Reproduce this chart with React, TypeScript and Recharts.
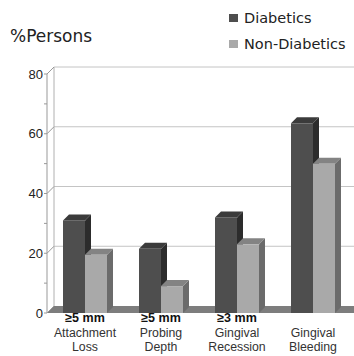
import React from "react";
import { BarChart, Bar, XAxis, YAxis, CartesianGrid, Legend } from "recharts";

const categories = ["Attachment Loss", "Probing Depth", "Gingival Recession", "Gingival Bleeding"];
const qualifierLabels = ["≥5 mm", "≥5 mm", "≥3 mm", ""];
const labelLine1 = ["Attachment", "Probing", "Gingival", "Gingival"];
const labelLine2 = ["Loss", "Depth", "Recession", "Bleeding"];
const diabetics = [31, 21.5, 32, 63.5];
const nonDiabetics = [19.5, 9, 23, 50];
const yTicks = [0, 10, 20, 30, 40, 50, 60, 70, 80];
const yMajorTicks = [0, 20, 40, 60, 80];
const seriesNames = ["Diabetics", "Non-Diabetics"];

const data = categories.map((c, i) => ({
  name: c,
  Diabetics: diabetics[i],
  NonDiabetics: nonDiabetics[i],
}));

const DEPTH = 6;
const WALL = 7;

const D_COLORS = { front: "#4e4e4e", top: "#3b3b3b", side: "#2c2c2c" };
const N_COLORS = { front: "#a9a9a9", top: "#838383", side: "#6b6b6b" };

const make3DBar = (c: { front: string; top: string; side: string }) => (props: any) => {
  const { x, y, width, height } = props;
  if (width == null || height == null) return <g />;
  const d = DEPTH;
  return (
    <g>
      <polygon
        points={`${x + width},${y} ${x + width + d},${y - d} ${x + width + d},${y + height - d} ${x + width},${y + height}`}
        fill={c.side}
      />
      <polygon
        points={`${x},${y} ${x + d},${y - d} ${x + width + d},${y - d} ${x + width},${y}`}
        fill={c.top}
      />
      <rect x={x} y={y} width={width} height={height} fill={c.front} />
    </g>
  );
};

const gridLine = (props: any) => {
  const { x1, y1, x2, x, y, width, height, index } = props;
  const bottom = y + height;
  const isFloor = Math.abs(y1 - bottom) < 0.5;
  return (
    <g key={`gl-${index}`}>
      {isFloor ? (
        <polygon
          points={`${x},${bottom} ${x + WALL},${bottom - WALL} ${x + width + WALL + 10},${bottom - WALL} ${x + width + 10},${bottom}`}
          fill="#7d7d7d"
        />
      ) : (
        <line x1={x1 + WALL} y1={y1 - WALL} x2={x2 + WALL} y2={y1 - WALL} stroke="#c4c4c4" strokeWidth={1} />
      )}
      {isFloor ? (
        <line x1={x + WALL} y1={y - WALL} x2={x + WALL} y2={bottom - WALL} stroke="#b0b0b0" strokeWidth={1} />
      ) : null}
    </g>
  );
};

const YTick = (props: any) => {
  const { x, y, payload } = props;
  const v = payload.value;
  const major = yMajorTicks.includes(v);
  return (
    <g>
      <line x1={x - 3} y1={y} x2={x} y2={y} stroke="#999" strokeWidth={1} />
      {major ? <line x1={x} y1={y} x2={x + WALL} y2={y - WALL} stroke="#999" strokeWidth={1} /> : null}
      {major ? (
        <text
          x={x - 4}
          y={y + 4.5}
          textAnchor="end"
          fontFamily="'Liberation Sans', Arial, sans-serif"
          fontSize={13}
          fill="#222"
        >
          {v}
        </text>
      ) : null}
    </g>
  );
};

const XTick = (props: any) => {
  const { x, y, payload } = props;
  const i = payload.index;
  const ff = "'Liberation Sans', Arial, sans-serif";
  return (
    <g>
      {qualifierLabels[i] ? (
        <text x={x} y={y + 9} textAnchor="middle" fontFamily={ff} fontSize={12.5} fontWeight="bold" fill="#111">
          {qualifierLabels[i]}
        </text>
      ) : null}
      <text x={x} y={y + 23.5} textAnchor="middle" fontFamily={ff} fontSize={12.3} fill="#333">
        {labelLine1[i]}
      </text>
      <text x={x} y={y + 38} textAnchor="middle" fontFamily={ff} fontSize={12.3} fill="#333">
        {labelLine2[i]}
      </text>
    </g>
  );
};

const LegendBox = () => {
  const colors = [D_COLORS.front, N_COLORS.front];
  return (
    <div style={{ fontFamily: "'DejaVu Sans', sans-serif", fontSize: 14.5, color: "#222" }}>
      {seriesNames.map((n, i) => (
        <div key={n} style={{ display: "flex", alignItems: "center", height: 26 }}>
          <span style={{ display: "inline-block", width: 9, height: 8, background: colors[i], marginRight: 6 }} />
          <span>{n}</span>
        </div>
      ))}
    </div>
  );
};

export default function App() {
  return (
    <div style={{ position: "absolute", left: 0, top: 0, width: 354, height: 356, background: "#fff" }}>
      <BarChart
        width={354}
        height={356}
        data={data}
        margin={{ top: 74, right: 3, left: 0, bottom: 0 }}
        barGap={0}
        barSize={22}
      >
        <CartesianGrid horizontal={gridLine} vertical={false} horizontalValues={yMajorTicks} />
        <XAxis
          dataKey="name"
          height={43}
          axisLine={false}
          tickLine={false}
          tickSize={0}
          tickMargin={0}
          interval={0}
          tick={<XTick />}
        />
        <YAxis
          width={47}
          domain={[0, 80]}
          ticks={yTicks}
          interval={0}
          axisLine={{ stroke: "#999" }}
          tickLine={false}
          tickSize={0}
          tickMargin={0}
          tick={<YTick />}
          label={{
            content: () => (
              <text x={10} y={42} fontFamily="'DejaVu Sans', sans-serif" fontSize={17} fill="#222">
                %Persons
              </text>
            ),
          }}
        />
        <Legend
          layout="horizontal"
          align="center"
          verticalAlign="middle"
          wrapperStyle={{ position: "absolute", top: 5, left: 229, width: 125, height: 52 }}
          content={() => <LegendBox />}
        />
        <Bar dataKey="Diabetics" name="Diabetics" fill={D_COLORS.front} isAnimationActive={false} shape={make3DBar(D_COLORS)} />
        <Bar dataKey="NonDiabetics" name="Non-Diabetics" fill={N_COLORS.front} isAnimationActive={false} shape={make3DBar(N_COLORS)} />
      </BarChart>
    </div>
  );
}
